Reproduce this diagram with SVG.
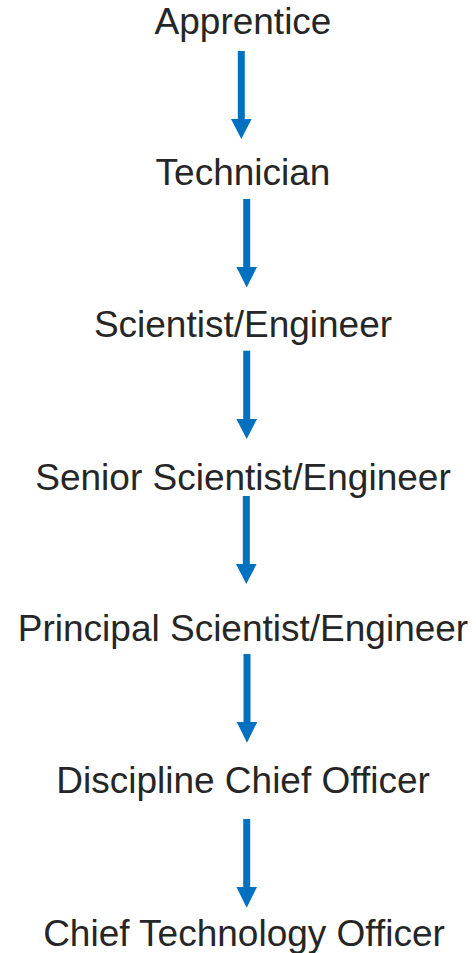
<svg xmlns="http://www.w3.org/2000/svg" width="476" height="953" viewBox="0 0 476 953">
<style>
.t{font-family:"Liberation Sans",Arial,sans-serif;font-size:37px;fill:#262626;text-anchor:middle}
.s{stroke:#0070C0;stroke-width:7;fill:none}
.h{fill:#0070C0}
</style>
<rect width="476" height="953" fill="#ffffff"/>
<g id="connectors">
<g><line class="s" x1="241.3" y1="51" x2="241.3" y2="120"/><polygon class="h" points="231,119 251.6,119 241.3,139"/></g>
<g><line class="s" x1="246.7" y1="199" x2="246.7" y2="268"/><polygon class="h" points="236.4,267 257,267 246.7,287.5"/></g>
<g><line class="s" x1="246.7" y1="350.7" x2="246.7" y2="420"/><polygon class="h" points="236.4,419 257,419 246.7,439"/></g>
<g><line class="s" x1="246.3" y1="496" x2="246.3" y2="565"/><polygon class="h" points="236,564 256.6,564 246.3,584"/></g>
<g><line class="s" x1="247" y1="654" x2="247" y2="723"/><polygon class="h" points="236.7,722 257.3,722 247,742.7"/></g>
<g><line class="s" x1="246.7" y1="819" x2="246.7" y2="888"/><polygon class="h" points="236.4,887 257,887 246.7,907.7"/></g>
</g>
<g id="n1"><text class="t" x="243" y="34">Apprentice</text></g>
<g id="n2"><text class="t" x="243" y="185">Technician</text></g>
<g id="n3"><text class="t" x="243" y="337">Scientist/Engineer</text></g>
<g id="n4"><text class="t" x="243" y="490">Senior Scientist/Engineer</text></g>
<g id="n5"><text class="t" x="243" y="641">Principal Scientist/Engineer</text></g>
<g id="n6"><text class="t" x="243" y="793">Discipline Chief Officer</text></g>
<g id="n7"><text class="t" x="244" y="946">Chief Technology Officer</text></g>
</svg>
